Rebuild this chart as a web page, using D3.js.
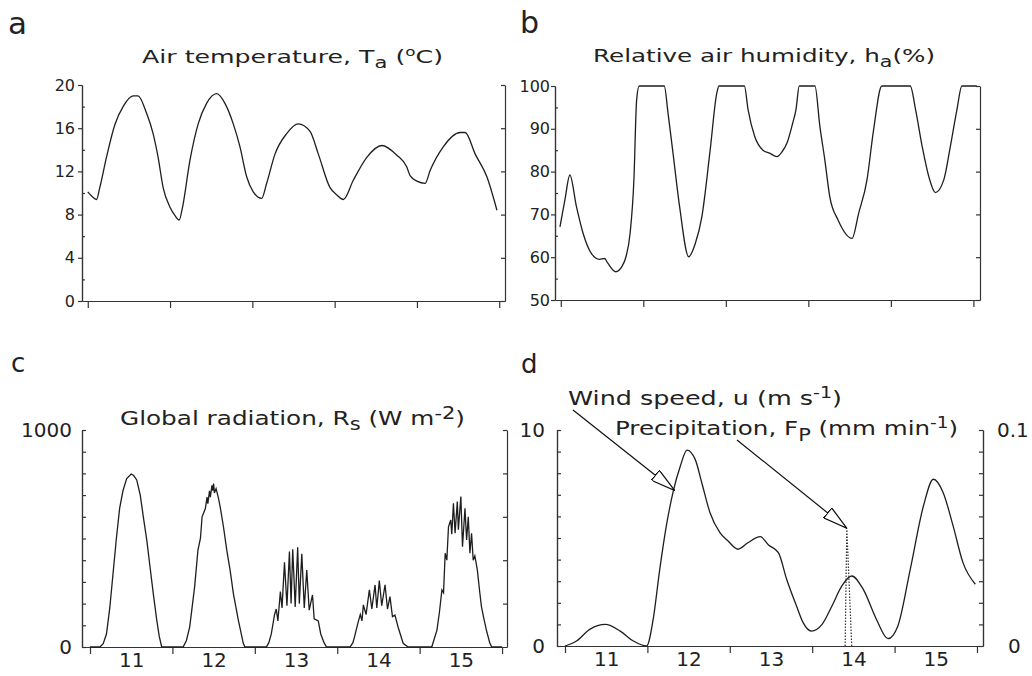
<!DOCTYPE html>
<html>
<head>
<meta charset="utf-8">
<script src="https://cdn.jsdelivr.net/npm/d3@7"></script>
<style>
  body { margin: 0; background: #fff; }
  svg { display: block; font-family: 'DejaVu Sans', sans-serif; fill: #222; }
  .curve { fill: none; stroke: #1e1e1e; stroke-width: 1.3; }
  .rain { fill: none; stroke: #333; stroke-width: 1.2; stroke-dasharray: 1.5 1.5; }
  .axis path, .axis line { stroke: #333; stroke-width: 1.2; }
  .axis text { fill: #222; font-family: 'DejaVu Sans', sans-serif; }
  .small text { font-size: 16px; }
  .large text { font-size: 20px; }
</style>
</head>
<body>
<script>
/*
 * Weather record for five days (11-15): air temperature, humidity,
 * global radiation, wind speed and precipitation.
 */

const dayTicks = [11, 12, 13, 14, 15, 16];
const dayLabels = [11, 12, 13, 14, 15];
const tempTicks = [0, 4, 8, 12, 16, 20];
const humidityTicks = [50, 60, 70, 80, 90, 100];

// [day, value] pairs
const airTemp = [
  [11.0, 10.1], [11.05, 9.7], [11.106, 9.4], [11.146, 10.5], [11.227, 13.3],
  [11.328, 16.3], [11.429, 18.0], [11.551, 19.0], [11.61, 19.0], [11.714, 17.4],
  [11.794, 15.5], [11.855, 13.3], [11.916, 10.5], [11.998, 8.7], [12.06, 7.9],
  [12.111, 7.5], [12.152, 8.7], [12.241, 13.0], [12.342, 16.4], [12.444, 18.3],
  [12.566, 19.2], [12.667, 18.3], [12.768, 16.4], [12.849, 14.3], [12.931, 11.5],
  [13.011, 10.1], [13.113, 9.5], [13.174, 10.9], [13.275, 13.6], [13.417, 15.5],
  [13.558, 16.4], [13.701, 15.7], [13.802, 13.6], [13.944, 10.5], [14.03, 9.8],
  [14.106, 9.4], [14.228, 11.2], [14.391, 13.3], [14.573, 14.4], [14.756, 13.5],
  [14.877, 12.4], [14.917, 11.6], [15.0, 11.1], [15.1, 10.9], [15.161, 12.1],
  [15.322, 14.3], [15.525, 15.6], [15.586, 15.6], [15.708, 13.6], [15.85, 11.5],
  [15.972, 8.4]
];

const humidity = [
  [10.99, 67.1], [11.05, 73.4], [11.11, 79.2], [11.19, 71.8], [11.27, 65.6],
  [11.37, 60.9], [11.47, 59.5], [11.53, 59.7], [11.57, 58.6], [11.667, 56.6],
  [11.74, 57.8], [11.79, 60.1], [11.84, 65.6], [11.886, 78], [11.919, 96.7],
  [11.95, 100], [12.254, 100], [12.30, 93.6], [12.36, 84.3], [12.44, 71.8],
  [12.55, 60.1], [12.63, 63.2], [12.71, 69.5], [12.81, 85], [12.89, 98.3],
  [12.917, 100], [13.225, 100], [13.27, 94.4], [13.35, 88.2], [13.45, 85],
  [13.53, 84.3], [13.62, 83.5], [13.68, 84.6], [13.74, 86.6], [13.81, 91.3],
  [13.85, 94.5], [13.89, 100], [14.08, 100], [14.14, 90.5], [14.20, 82.7],
  [14.26, 74.1], [14.36, 68.7], [14.53, 64.4], [14.61, 70.3], [14.71, 78],
  [14.79, 89.7], [14.89, 100], [15.235, 100], [15.30, 94.4], [15.38, 85.8],
  [15.46, 78.8], [15.54, 75.1], [15.64, 78], [15.72, 85.8], [15.80, 94.4],
  [15.86, 100], [16.04, 100]
];

const radiation = [
  [11.0, 0], [11.12, 0], [11.16, 15], [11.20, 60], [11.24, 180], [11.28, 340],
  [11.32, 500], [11.36, 640], [11.40, 720], [11.445, 776], [11.5, 797],
  [11.53, 790], [11.567, 770], [11.61, 700], [11.647, 600], [11.69, 490],
  [11.728, 370], [11.77, 240], [11.81, 124], [11.84, 50], [11.87, 0],
  [12.13, 0], [12.17, 30], [12.21, 93], [12.27, 278], [12.31, 447], [12.34, 500],
  [12.36, 600], [12.40, 638], [12.42, 691], [12.43, 660], [12.45, 720],
  [12.46, 690], [12.48, 745], [12.49, 720], [12.50, 753], [12.51, 710],
  [12.53, 730], [12.55, 700], [12.56, 684], [12.58, 645], [12.62, 553],
  [12.66, 445], [12.70, 354], [12.74, 246], [12.80, 124], [12.86, 17], [12.88, 0],
  [13.14, 0], [13.17, 20], [13.20, 60], [13.24, 150], [13.26, 175], [13.28, 120],
  [13.31, 255], [13.33, 180], [13.36, 390], [13.39, 190], [13.42, 440],
  [13.44, 200], [13.46, 450], [13.49, 185], [13.52, 460], [13.54, 200],
  [13.57, 430], [13.60, 180], [13.63, 355], [13.66, 170], [13.70, 240],
  [13.72, 130], [13.77, 120], [13.80, 60], [13.84, 20], [13.87, 0],
  [14.155, 0], [14.19, 20], [14.21, 47], [14.25, 109], [14.28, 150], [14.30, 120],
  [14.317, 194], [14.35, 150], [14.39, 263], [14.42, 175], [14.459, 286],
  [14.48, 180], [14.511, 306], [14.54, 190], [14.58, 286], [14.61, 175],
  [14.64, 232], [14.67, 140], [14.70, 147], [14.74, 90], [14.80, 17], [14.86, 0],
  [15.147, 0], [15.21, 78], [15.24, 160], [15.27, 263], [15.29, 250], [15.31, 432],
  [15.33, 400], [15.35, 554], [15.377, 585], [15.39, 520], [15.41, 662],
  [15.43, 524], [15.457, 670], [15.47, 540], [15.50, 693], [15.52, 462],
  [15.55, 639], [15.57, 493], [15.59, 600], [15.61, 432], [15.63, 524],
  [15.65, 400], [15.67, 420], [15.70, 355], [15.73, 250], [15.75, 186],
  [15.78, 130], [15.81, 78], [15.85, 20], [15.875, 0], [16.0, 0]
];

const windSpeed = [
  [11.0, 0], [11.14, 0.23], [11.30, 0.77], [11.49, 1.0], [11.67, 0.69],
  [11.83, 0.23], [11.99, 0], [12.07, 1.23], [12.15, 3.55], [12.23, 5.56],
  [12.31, 7.1], [12.40, 8.33], [12.48, 9.07], [12.58, 8.64], [12.66, 7.56],
  [12.76, 6.17], [12.88, 5.25], [12.98, 4.86], [13.10, 4.48], [13.22, 4.78],
  [13.37, 5.06], [13.47, 4.68], [13.59, 4.32], [13.69, 3.09], [13.81, 1.85],
  [13.89, 1.08], [13.99, 0.69], [14.12, 1.0], [14.24, 1.85], [14.36, 2.78],
  [14.48, 3.24], [14.62, 2.62], [14.78, 1.23], [14.92, 0.34], [15.04, 0.93],
  [15.19, 3.55], [15.35, 6.48], [15.47, 7.72], [15.59, 7.1], [15.71, 5.56],
  [15.83, 3.86], [15.98, 2.86]
];

const precipitation = [[14.40, 0], [14.42, 0.0545], [14.48, 0]];

const svg = d3.select('body')
  .append('svg')
    .attr('width', 1032)
    .attr('height', 676);

// open arrow head used by the annotations
svg.append('defs')
  .append('marker')
    .attr('id', 'head')
    .attr('viewBox', '0 0 10 10')
    .attr('preserveAspectRatio', 'none')
    .attr('markerUnits', 'userSpaceOnUse')
    .attr('markerWidth', 25)
    .attr('markerHeight', 13)
    .attr('refX', 10)
    .attr('refY', 5)
    .attr('orient', 'auto')
  .append('path')
    .attr('d', 'M0,0L10,5L0,10Z')
    .attr('fill', '#fff')
    .attr('stroke', '#111')
    .attr('stroke-width', 0.9);

/*
 * Helpers
 */

const makeScales = (box, xDomain, yDomain) => ({
  x: d3.scaleLinear().domain(xDomain).range([box.left, box.right]),
  y: d3.scaleLinear().domain(yDomain).range([box.bottom, box.top])
});

const drawCurve = (data, x, y, curve, cls = 'curve') => {
  svg.append('path')
      .datum(data)
      .attr('class', cls)
      .attr('d', d3.line()
        .x(d => x(d[0]))
        .y(d => y(d[1]))
        .curve(curve));
};

const addAxis = (axis, tx, ty, cls) => svg.append('g')
    .attr('class', `axis ${cls || ''}`)
    .attr('transform', `translate(${tx},${ty})`)
    .call(axis);

const addXAxis = (x, yPos, withLabels) => {
  addAxis(d3.axisBottom(x).tickValues(dayTicks).tickSize(7)
    .tickSizeOuter(0).tickFormat(''), 0, yPos);
  if (withLabels) {
    addAxis(d3.axisBottom(x).tickValues(dayLabels.map(d => d + 0.5))
      .tickSize(0).tickPadding(6).tickFormat(d => Math.floor(d)), 0, yPos, 'large')
      .select('.domain').remove();
  }
};

// titles are stretched to the width they have in the original
const addText = (x, y, size, width, parts) => {
  const t = svg.append('text')
      .attr('x', x)
      .attr('y', y)
      .attr('font-size', size)
      .attr('textLength', width)
      .attr('lengthAdjust', 'spacingAndGlyphs');
  parts.forEach(p => t.append('tspan')
      .attr('dy', p.dy || 0)
      .attr('font-size', p.fs || null)
      .text(p.t));
};

const addPanelLetter = (x, y, size, letter) => {
  svg.append('text')
      .attr('x', x)
      .attr('y', y)
      .attr('font-size', size)
      .text(letter);
};

/*
 * a: air temperature
 */

const boxA = {left: 82, right: 505, top: 85, bottom: 301};
const a = makeScales(boxA, [10.93, 16.07], [0, 20]);
addAxis(d3.axisLeft(a.y).tickValues(tempTicks).tickSize(4).tickPadding(3)
  .tickSizeOuter(0), boxA.left, 0, 'small');
addAxis(d3.axisLeft(a.y).tickValues([2, 6, 10, 14, 18]).tickSize(-3)
  .tickSizeOuter(0).tickFormat(''), boxA.left, 0);
addAxis(d3.axisRight(a.y).tickValues(tempTicks).tickSize(-4)
  .tickSizeOuter(0).tickFormat(''), boxA.right, 0);
addXAxis(a.x, boxA.bottom, false);
drawCurve(airTemp, a.x, a.y, d3.curveMonotoneX);
addPanelLetter(8, 34, 31, 'a');
addText(142, 63, 18, 301, [
  {t: 'Air temperature, T'}, {t: 'a', dy: 5, fs: 15},
  {t: ' (', dy: -5}, {t: 'o', dy: -7, fs: 12}, {t: 'C)', dy: 7}
]);

/*
 * b: relative air humidity
 */

const boxB = {left: 555, right: 980, top: 86, bottom: 300};
const b = makeScales(boxB, [10.93, 16.08], [50, 100]);
addAxis(d3.axisLeft(b.y).tickValues(humidityTicks).tickSize(4).tickPadding(1)
  .tickSizeOuter(0), boxB.left, 0, 'small');
addAxis(d3.axisLeft(b.y).tickValues([55, 65, 75, 85, 95]).tickSize(-3)
  .tickSizeOuter(0).tickFormat(''), boxB.left, 0);
addAxis(d3.axisRight(b.y).tickValues(humidityTicks).tickSize(-4)
  .tickSizeOuter(0).tickFormat(''), boxB.right, 0);
addXAxis(b.x, boxB.bottom, false);
drawCurve(humidity, b.x, b.y, d3.curveMonotoneX);
addPanelLetter(520, 33, 30, 'b');
addText(593, 62, 18, 342, [
  {t: 'Relative air humidity, h'}, {t: 'a', dy: 5, fs: 15}, {t: '(%)', dy: -5}
]);

/*
 * c: global radiation
 */

const boxC = {left: 82, right: 507, top: 430, bottom: 647};
const c = makeScales(boxC, [10.903, 16.06], [0, 1000]);
addAxis(d3.axisLeft(c.y).tickValues([0, 1000]).tickSize(-4).tickPadding(10)
  .tickSizeOuter(0).tickFormat(d3.format('d')), boxC.left, 0, 'large');
addAxis(d3.axisLeft(c.y).tickValues(d3.range(100, 1000, 100)).tickSize(-4)
  .tickSizeOuter(0).tickFormat(''), boxC.left, 0);
addAxis(d3.axisRight(c.y).tickValues([200, 400, 600, 800, 1000]).tickSize(-4)
  .tickSizeOuter(0).tickFormat(''), boxC.right, 0);
addXAxis(c.x, boxC.bottom, true);
drawCurve(radiation, c.x, c.y, d3.curveLinear);
addPanelLetter(11, 372, 26, 'c');
addText(120, 425, 20, 345, [
  {t: 'Global radiation, R'}, {t: 's', dy: 5, fs: 17},
  {t: ' (W m', dy: -5}, {t: '-2', dy: -6, fs: 17}, {t: ')', dy: 6}
]);

/*
 * d: wind speed and precipitation
 */

const boxD = {left: 557, right: 983, top: 430, bottom: 646};
const d = makeScales(boxD, [10.903, 16.073], [0, 10]);
const yRain = d3.scaleLinear().domain([0, 0.1]).range([boxD.bottom, boxD.top]);
addAxis(d3.axisLeft(d.y).tickValues([0, 10]).tickSize(-4).tickPadding(12)
  .tickSizeOuter(0), boxD.left, 0, 'large');
addAxis(d3.axisLeft(d.y).tickValues(d3.range(1, 10)).tickSize(-4)
  .tickSizeOuter(0).tickFormat(''), boxD.left, 0);
addAxis(d3.axisRight(yRain).tickValues([0, 0.1]).tickSize(-4).tickPadding(14)
  .tickSizeOuter(0).tickFormat(v => v === 0 ? '0' : '0.1'), boxD.right, 0, 'large')
  .selectAll('.tick text')
    .filter(v => v === 0)
    .attr('x', 25);
addAxis(d3.axisRight(yRain).tickValues(d3.range(1, 10).map(v => v / 100)).tickSize(-4)
  .tickSizeOuter(0).tickFormat(''), boxD.right, 0);
addXAxis(d.x, boxD.bottom, true);
drawCurve(windSpeed, d.x, d.y, d3.curveMonotoneX);
drawCurve(precipitation, d.x, yRain, d3.curveLinear, 'rain');
addPanelLetter(521, 373, 26, 'd');
addText(568, 405, 20, 274, [
  {t: 'Wind speed, u (m s'}, {t: '-1', dy: -7, fs: 15}, {t: ')', dy: 7}
]);
addText(615, 435, 20, 343, [
  {t: 'Precipitation, F'}, {t: 'P', dy: 6, fs: 17},
  {t: ' (mm min', dy: -6}, {t: '-1', dy: -7, fs: 15}, {t: ')', dy: 7}
]);

// annotation arrows pointing at the two curves
svg.append('line')
    .attr('x1', 573).attr('y1', 410)
    .attr('x2', d.x(12.33)).attr('y2', d.y(7.2))
    .attr('stroke', '#111').attr('stroke-width', 1.2)
    .attr('marker-end', 'url(#head)');
svg.append('line')
    .attr('x1', 737).attr('y1', 440)
    .attr('x2', d.x(14.42)).attr('y2', yRain(0.0545))
    .attr('stroke', '#111').attr('stroke-width', 1.2)
    .attr('marker-end', 'url(#head)');
</script>
</body>
</html>
